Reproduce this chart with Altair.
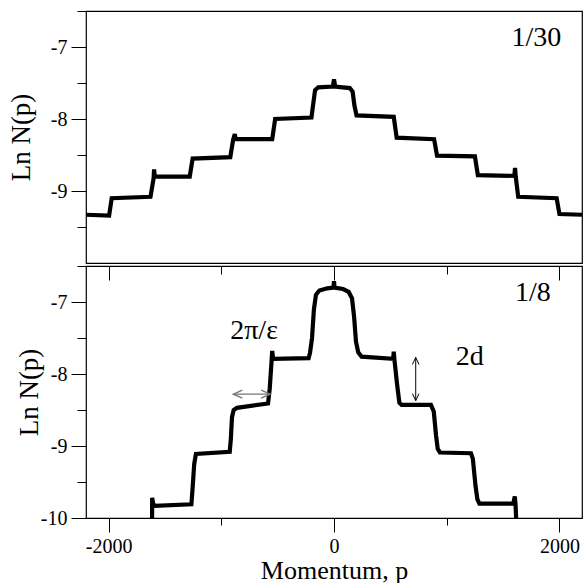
import altair as alt
import pandas as pd

# ---------------- data ----------------
# top panel (1/30): momentum p and Ln N(p)
top_p = [-2200, -1995, -1972, -1628, -1600, -1596, -1590, -1280, -1254, -920, -895, -880, -872,
         -548, -522, -200, -185, -168, -140, -10, 0, 10, 140, 165, 182, 200, 530, 556, 888, 914,
         1250, 1276, 1600, 1606, 1612, 1634, 1975, 2000, 2200]
top_ln = [-9.33, -9.34, -9.10, -9.08, -8.82, -8.70, -8.80, -8.80, -8.55, -8.53, -8.29, -8.21, -8.28,
          -8.28, -8.00, -7.98, -7.80, -7.60, -7.56, -7.55, -7.45, -7.55, -7.57, -7.62, -7.82, -7.95, -7.97, -8.26, -8.28, -8.51,
          -8.52, -8.78, -8.79, -8.68, -8.80, -9.08, -9.10, -9.32, -9.33]

# bottom panel (1/8)
bot_p = [-1614, -1613, -1605, -1590, -1265, -1255, -1240, -1225, -925, -915, -905, -890, -860,
         -585, -570, -555, -548, -540, -225, -212, -195, -178, -160, -130, -60, -5, 0, 5, 80, 130,
         160, 178, 195, 215, 245, 525, 530, 536, 560, 580, 600, 860, 885, 905, 920, 940, 1215, 1232,
         1255, 1272, 1290, 1590, 1604, 1610, 1617]
bot_ln = [-10.05, -9.72, -9.80, -9.83, -9.81, -9.60, -9.25, -9.11, -9.08, -8.90, -8.60, -8.50, -8.47,
          -8.41, -8.20, -7.85, -7.68, -7.79, -7.78, -7.70, -7.50, -7.10, -6.90, -6.84, -6.81, -6.80, -6.71, -6.80, -6.82, -6.86,
          -6.95, -7.20, -7.55, -7.70, -7.76, -7.79, -7.69, -7.80, -8.15, -8.40, -8.43, -8.43, -8.52, -8.85, -9.04, -9.09, -9.10, -9.18,
          -9.55, -9.74, -9.80, -9.80, -9.70, -9.80, -10.05]

# panel labels
panel_labels = ["1/30", "1/8"]
panel_label_p = [1796, 1765]
panel_label_ln = [-6.99, -6.98]

# annotations in the bottom panel
ann_labels = ["2π/ε", "2d"]
ann_p = [-709, 1204]
ann_ln = [-7.52, -7.88]

# arrows: horizontal (2π/ε) and vertical (2d)
harrow_p = [-893, -566]
harrow_ln = [-8.28, -8.28]
varrow_p = [725, 725]
varrow_ln = [-7.77, -8.37]

x_ticks = [-2000, -1000, 0, 1000, 2000]
y_ticks_top = [-9.5, -9, -8.5, -8, -7.5, -7, -6.5]
y_ticks_bot = [-10, -9.5, -9, -8.5, -8, -7.5, -7, -6.5]

FONT = "Liberation Serif"
W, H = 496, 252
XDOM = [-2200, 2200]
YDOM = [-10, -6.5]

xscale = alt.Scale(domain=XDOM, nice=False, zero=False)
yscale = alt.Scale(domain=YDOM, nice=False, zero=False)


def yaxis(values, title_x):
    return alt.Axis(
        values=values,
        tickSize={"expr": "datum.value % 1 === 0 ? 15 : 9"},
        labelExpr="datum.value % 1 === 0 ? '' + datum.value : ''",
        labelFontSize={"expr": "datum.value % 1 === 0 ? 20 : 0"},
        labelFont=FONT, labelPadding=4, labelColor="black",
        labelOverlap=False, labelFlush=False,
        title="Ln N(p)", titleFont=FONT, titleFontSize=27, titleFontWeight="normal",
        titleColor="black", titleX=title_x, titleY=H / 2, titleAngle=270,
        titleBaseline="bottom", titleAlign="center",
        tickColor="black", tickWidth=1, domain=False, grid=False, minExtent=0,
    )


def text_layer(label, p, ln, size, xaxis, yax):
    df = pd.DataFrame({"p": [p], "ln": [ln], "t": [label]})
    return alt.Chart(df).mark_text(
        font=FONT, fontSize=size, align="center", baseline="alphabetic", color="black"
    ).encode(
        x=alt.X("p:Q", scale=xscale, axis=xaxis),
        y=alt.Y("ln:Q", scale=yscale, axis=yax),
        text="t:N",
    )


# ---------------- top panel ----------------
df_top = pd.DataFrame({"p": top_p, "ln": top_ln, "i": range(len(top_p))})
ytop = yaxis(y_ticks_top, -51)

top_line = alt.Chart(df_top).mark_line(color="black", strokeWidth=4.2, clip=True).encode(
    x=alt.X("p:Q", scale=xscale, axis=None),
    y=alt.Y("ln:Q", scale=yscale, axis=ytop),
    order="i:Q",
)
top_text = text_layer(panel_labels[0], panel_label_p[0], panel_label_ln[0], 28, None, ytop)
top = alt.layer(top_line, top_text).properties(width=W, height=H)

# ---------------- bottom panel ----------------
df_bot = pd.DataFrame({"p": bot_p, "ln": bot_ln, "i": range(len(bot_p))})
ybot = yaxis(y_ticks_bot, -43)

xaxis_bottom = alt.Axis(
    values=x_ticks, orient="bottom",
    tickSize={"expr": "datum.value % 2000 === 0 ? 14 : 7"},
    labelExpr="datum.value % 2000 === 0 ? '' + datum.value : ''",
    labelFont=FONT, labelFontSize=20, labelPadding=4, labelColor="black",
    labelOverlap=False, labelFlush=False,
    title="Momentum, p", titleFont=FONT, titleFontSize=26, titleFontWeight="normal",
    titleColor="black", titlePadding=1,
    tickColor="black", tickWidth=1, domain=False, grid=False, minExtent=0,
)
xaxis_top = alt.Axis(
    values=x_ticks, orient="top",
    tickSize={"expr": "datum.value % 2000 === 0 ? -14 : -8"},
    labels=False, title=None, tickColor="black", tickWidth=1, domain=False, grid=False,
    minExtent=0, maxExtent=0,
)

bot_line = alt.Chart(df_bot).mark_line(color="black", strokeWidth=4.2, clip=True).encode(
    x=alt.X("p:Q", scale=xscale, axis=xaxis_bottom),
    y=alt.Y("ln:Q", scale=yscale, axis=ybot),
    order="i:Q",
)
label_18 = text_layer(panel_labels[1], panel_label_p[1], panel_label_ln[1], 28, xaxis_top, ybot)
label_eps = text_layer(ann_labels[0], ann_p[0], ann_ln[0], 28, None, ybot)
label_2d = text_layer(ann_labels[1], ann_p[1], ann_ln[1], 28, None, ybot)

df_h = pd.DataFrame({"p": [harrow_p[0]], "p2": [harrow_p[1]], "ln": [harrow_ln[0]]})
h_rule = alt.Chart(df_h).mark_rule(color="#777777", strokeWidth=1.4).encode(
    x=alt.X("p:Q", scale=xscale, axis=None), x2="p2:Q",
    y=alt.Y("ln:Q", scale=yscale, axis=ybot),
)
df_v = pd.DataFrame({"p": [varrow_p[0]], "ln": [varrow_ln[0]], "ln2": [varrow_ln[1]]})
v_rule = alt.Chart(df_v).mark_rule(color="black", strokeWidth=1).encode(
    x=alt.X("p:Q", scale=xscale, axis=None),
    y=alt.Y("ln:Q", scale=yscale, axis=ybot), y2="ln2:Q",
)

df_heads_h = pd.DataFrame({"p": harrow_p, "ln": harrow_ln, "ang": [180, 0]})
heads_h = alt.Chart(df_heads_h).mark_point(
    shape="M -1 -0.45 L 0 0 L -1 0.45", filled=False, size=324, color="#777777", strokeWidth=1.4, opacity=1
).encode(
    x=alt.X("p:Q", scale=xscale, axis=None),
    y=alt.Y("ln:Q", scale=yscale, axis=ybot),
    angle=alt.Angle("ang:Q", scale=None),
)
df_heads_v = pd.DataFrame({"p": varrow_p, "ln": varrow_ln, "ang": [270, 90]})
heads_v = alt.Chart(df_heads_v).mark_point(
    shape="M -1 -0.47 L 0 0 L -1 0.47", filled=False, size=196, color="black", strokeWidth=1, opacity=1
).encode(
    x=alt.X("p:Q", scale=xscale, axis=None),
    y=alt.Y("ln:Q", scale=yscale, axis=ybot),
    angle=alt.Angle("ang:Q", scale=None),
)

bottom = alt.layer(bot_line, label_18, label_eps, label_2d, h_rule, v_rule, heads_h, heads_v).resolve_axis(
    x="independent"
).properties(width=W, height=H)

chart = alt.vconcat(top, bottom, spacing=0).properties(
    padding={"left": 6, "top": 9, "right": 1, "bottom": 0},
    background="white",
).configure_view(stroke="black", strokeWidth=1.2).configure_concat(spacing=0).configure_axis(
    labelFont=FONT, titleFont=FONT
)

chart.save("out.html", embed_options={"renderer": "svg", "actions": False})
